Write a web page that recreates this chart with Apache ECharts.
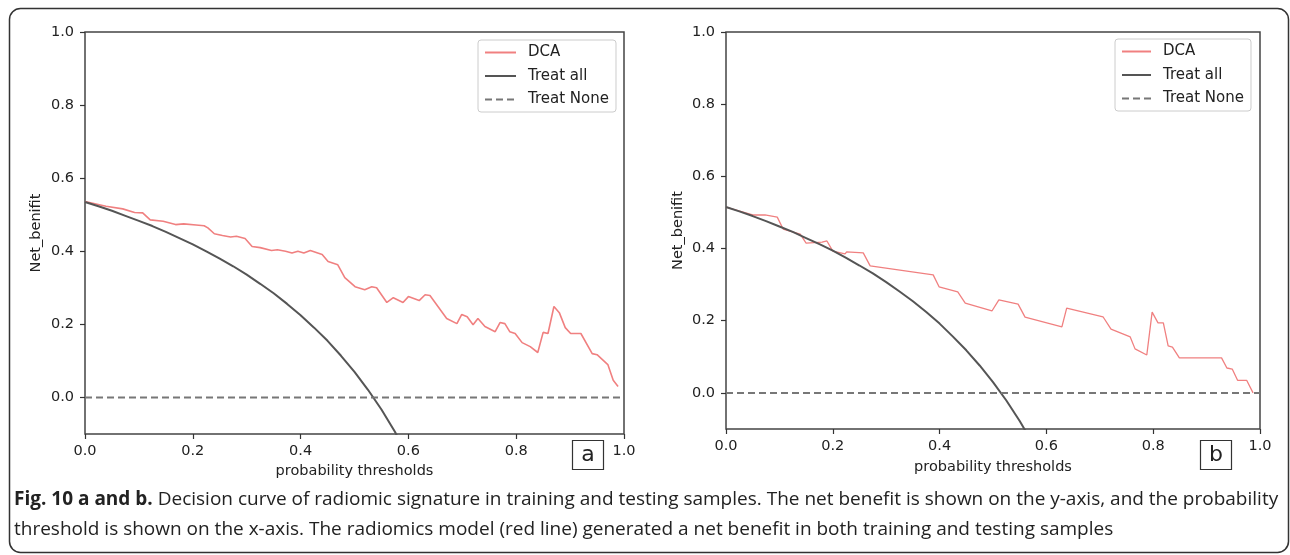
<!DOCTYPE html>
<html>
<head>
<meta charset="utf-8">
<script src="https://cdn.jsdelivr.net/npm/echarts@6/dist/echarts.min.js"></script>
<style>
html, body { margin: 0; padding: 0; background: #fff; }
#chart { width: 1290px; height: 555px; }
</style>
</head>
<body>
<div id="chart"></div>
<script>
// panel a (training)
const thresholdsA = [0, 0.039, 0.07, 0.092, 0.107, 0.121, 0.145, 0.168, 0.183, 0.206, 0.221, 0.228, 0.24, 0.255, 0.27, 0.281, 0.297, 0.31, 0.325, 0.346, 0.357, 0.372, 0.384, 0.395, 0.406, 0.418, 0.44, 0.451, 0.469, 0.482, 0.501, 0.519, 0.532, 0.541, 0.56, 0.572, 0.59, 0.6, 0.62, 0.631, 0.64, 0.671, 0.69, 0.699, 0.709, 0.72, 0.729, 0.742, 0.761, 0.77, 0.779, 0.788, 0.798, 0.811, 0.826, 0.84, 0.85, 0.859, 0.87, 0.88, 0.891, 0.901, 0.92, 0.941, 0.95, 0.97, 0.98, 0.989];
const dcaA = [0.536, 0.523, 0.516, 0.506, 0.505, 0.486, 0.482, 0.473, 0.475, 0.472, 0.470, 0.464, 0.448, 0.443, 0.439, 0.441, 0.435, 0.413, 0.410, 0.402, 0.404, 0.400, 0.395, 0.400, 0.395, 0.402, 0.391, 0.372, 0.363, 0.328, 0.303, 0.295, 0.303, 0.300, 0.260, 0.273, 0.260, 0.276, 0.265, 0.281, 0.279, 0.216, 0.202, 0.227, 0.221, 0.199, 0.216, 0.194, 0.180, 0.205, 0.202, 0.180, 0.175, 0.150, 0.139, 0.123, 0.178, 0.175, 0.249, 0.232, 0.191, 0.175, 0.175, 0.120, 0.117, 0.090, 0.047, 0.030];

// panel b (testing)
const thresholdsB = [0, 0.05, 0.073, 0.096, 0.107, 0.139, 0.15, 0.18, 0.189, 0.2, 0.223, 0.226, 0.257, 0.27, 0.388, 0.399, 0.434, 0.448, 0.498, 0.511, 0.547, 0.56, 0.629, 0.638, 0.706, 0.721, 0.757, 0.766, 0.788, 0.798, 0.809, 0.819, 0.828, 0.836, 0.849, 0.928, 0.938, 0.948, 0.958, 0.975, 0.987];
const dcaB = [0.515, 0.493, 0.493, 0.487, 0.454, 0.440, 0.415, 0.418, 0.421, 0.393, 0.385, 0.391, 0.388, 0.352, 0.327, 0.294, 0.280, 0.249, 0.227, 0.258, 0.246, 0.210, 0.183, 0.235, 0.211, 0.177, 0.155, 0.122, 0.105, 0.224, 0.194, 0.194, 0.130, 0.127, 0.097, 0.097, 0.069, 0.066, 0.035, 0.035, 0.0];

// treat all curves
const treatAllX = [0, 0.025, 0.05, 0.075, 0.1, 0.125, 0.15, 0.175, 0.2, 0.225, 0.25, 0.275, 0.3, 0.325, 0.35, 0.375, 0.4, 0.425, 0.45, 0.475, 0.5, 0.525, 0.55, 0.575, 0.6];
const treatAllA = [0.535, 0.523, 0.511, 0.497, 0.483, 0.469, 0.453, 0.436, 0.419, 0.400, 0.380, 0.359, 0.336, 0.311, 0.285, 0.256, 0.225, 0.191, 0.155, 0.114, 0.070, 0.021, -0.033, -0.094, -0.163];
const treatAllB = [0.515, 0.503, 0.490, 0.476, 0.461, 0.446, 0.429, 0.412, 0.394, 0.374, 0.353, 0.331, 0.307, 0.281, 0.254, 0.224, 0.192, 0.156, 0.118, 0.076, 0.030, -0.021, -0.078, -0.141, -0.213];

const treatNoneX = [0, 1];
const treatNoneY = [0, 0];

const xTicks = [0, 0.2, 0.4, 0.6, 0.8, 1.0];
const yTicks = [0, 0.2, 0.4, 0.6, 0.8, 1.0];
const seriesNames = ['DCA', 'Treat all', 'Treat None'];

const zip = (xs, ys) => xs.map((x, i) => [x, ys[i]]);

const tickFont = 'DejaVu Sans';
const dcaColor = '#f08080';

function xAxisFor(gridIndex, nameGap) {
    return {
        type: 'value',
        gridIndex,
        min: 0,
        max: 1,
        name: 'probability thresholds',
        nameLocation: 'middle',
        nameGap,
        nameTextStyle: { fontFamily: tickFont, fontSize: 14.5, color: '#222' },
        axisLine: { show: false, onZero: false },
        axisTick: { show: true, length: 5, customValues: xTicks, lineStyle: { color: '#333', width: 1.2 } },
        axisLabel: {
            customValues: xTicks,
            margin: 10,
            fontFamily: tickFont,
            fontSize: 14.5,
            color: '#222',
            formatter: v => v.toFixed(1)
        },
        splitLine: { show: false }
    };
}

function yAxisFor(gridIndex, nameGap) {
    return {
        type: 'value',
        gridIndex,
        min: -0.1,
        max: 1.0,
        name: 'Net_benifit',
        nameLocation: 'middle',
        nameRotate: 90,
        nameGap,
        nameTextStyle: { fontFamily: tickFont, fontSize: 14.5, color: '#222' },
        axisLine: { show: false, onZero: false },
        axisTick: { show: true, length: 5, customValues: yTicks, lineStyle: { color: '#333', width: 1.2 } },
        axisLabel: {
            customValues: yTicks,
            margin: 11,
            fontFamily: tickFont,
            fontSize: 14.5,
            color: '#222',
            formatter: v => v.toFixed(1)
        },
        splitLine: { show: false }
    };
}

function seriesFor(idx, xs, dca, treatAll, dcaWidth) {
    return [
        {
            name: 'DCA', type: 'line', xAxisIndex: idx, yAxisIndex: idx,
            data: zip(xs, dca), symbol: 'none',
            lineStyle: { color: dcaColor, width: dcaWidth }, itemStyle: { color: dcaColor }
        },
        {
            name: 'Treat all', type: 'line', xAxisIndex: idx, yAxisIndex: idx,
            data: zip(treatAllX, treatAll), symbol: 'none',
            lineStyle: { color: '#555', width: 2 }, itemStyle: { color: '#555' }
        },
        {
            name: 'Treat None', type: 'line', xAxisIndex: idx, yAxisIndex: idx,
            data: zip(treatNoneX, treatNoneY), symbol: 'none',
            lineStyle: { color: '#777', width: 2, type: [7, 4] }, itemStyle: { color: '#777' }
        }
    ];
}

function legendFor(left, top, itemWidth) {
    return {
        data: seriesNames,
        orient: 'vertical',
        left, top,
        itemWidth,
        itemHeight: 14,
        itemGap: 8.5,
        padding: [5, 7, 5, 6],
        borderColor: '#ccc',
        borderWidth: 1,
        borderRadius: 3,
        backgroundColor: '#fff',
        itemStyle: { opacity: 0 },
        textStyle: { fontFamily: tickFont, fontSize: 15, color: '#222', padding: [0, 0, 0, 7] }
    };
}

const captionFont = '"Open Sans", sans-serif';

const chart = echarts.init(document.getElementById('chart'), null, { renderer: 'canvas' });

const option = {
    animation: false,
    backgroundColor: '#fff',
    grid: [
        { left: 85, top: 32, width: 539, height: 402, show: true, borderColor: '#444', borderWidth: 1.5, backgroundColor: 'transparent' },
        { left: 726, top: 32, width: 534, height: 397, show: true, borderColor: '#444', borderWidth: 1.5, backgroundColor: 'transparent' }
    ],
    xAxis: [xAxisFor(0, 26), xAxisFor(1, 31)],
    yAxis: [yAxisFor(0, 41), yAxisFor(1, 40)],
    legend: [legendFor(478, 40, 31), legendFor(1115, 39, 29)],
    series: [
        ...seriesFor(0, thresholdsA, dcaA, treatAllA, 1.6),
        ...seriesFor(1, thresholdsB, dcaB, treatAllB, 1.3)
    ],
    graphic: {
        elements: [
            // outer frame
            {
                type: 'rect', silent: true,
                shape: { x: 9.5, y: 8.5, width: 1279, height: 544, r: 11 },
                style: { fill: 'none', stroke: '#333', lineWidth: 1.5 }
            },
            // panel letters
            {
                type: 'rect', silent: true,
                shape: { x: 572.5, y: 440.5, width: 31, height: 29 },
                style: { fill: '#fff', stroke: '#333', lineWidth: 1.2 }
            },
            {
                type: 'text', silent: true, x: 588, y: 455,
                style: { text: 'a', font: '22px "DejaVu Sans"', fill: '#222', align: 'center', verticalAlign: 'middle' }
            },
            {
                type: 'rect', silent: true,
                shape: { x: 1200.5, y: 440.5, width: 31, height: 29 },
                style: { fill: '#fff', stroke: '#333', lineWidth: 1.2 }
            },
            {
                type: 'text', silent: true, x: 1216, y: 455,
                style: { text: 'b', font: '22px "DejaVu Sans"', fill: '#222', align: 'center', verticalAlign: 'middle' }
            },
            // caption
            {
                type: 'text', silent: true, x: 14, y: 500,
                style: {
                    text: '{b|Fig. 10 a and b.} Decision curve of radiomic signature in training and testing samples. The net benefit is shown on the y-axis, and the probability',
                    font: '19px ' + captionFont, fill: '#222', verticalAlign: 'middle',
                    rich: { b: { fontWeight: 'bold', fontSize: 19, fontFamily: captionFont, fill: '#222' } }
                }
            },
            {
                type: 'text', silent: true, x: 14, y: 530,
                style: {
                    text: 'threshold is shown on the x-axis. The radiomics model (red line) generated a net benefit in both training and testing samples',
                    font: '19px ' + captionFont, fill: '#222', verticalAlign: 'middle'
                }
            }
        ]
    }
};

chart.setOption(option);
</script>
</body>
</html>
